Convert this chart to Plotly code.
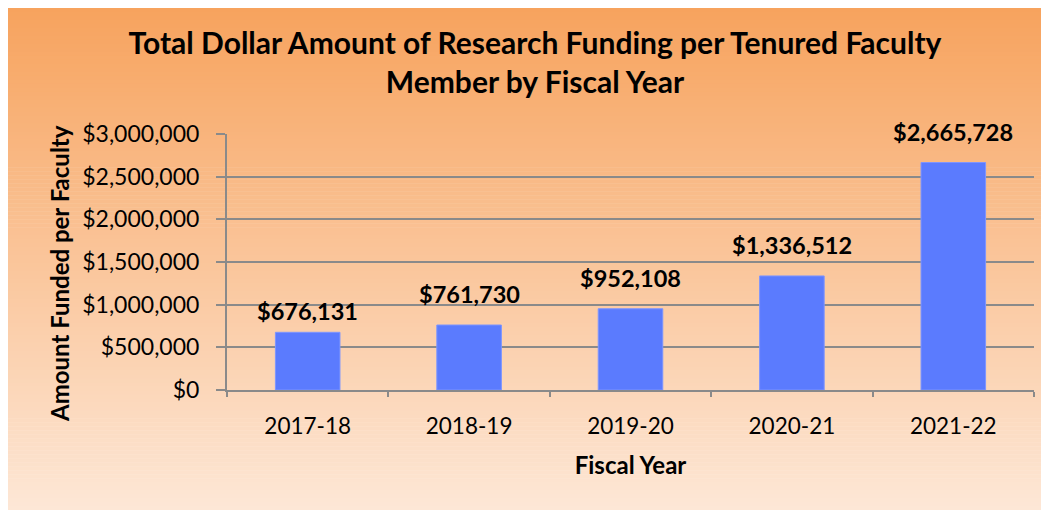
import plotly.graph_objects as go

years = ["2017-18", "2018-19", "2019-20", "2020-21", "2021-22"]
funding = [676131, 761730, 952108, 1336512, 2665728]
label_gap = [8, 18, 18, 18, 18]  # how far each value label sits above its bar (px)

W, H = 1041, 510
L, R, T, B = 219, 15, 126, 128
PW, PH = W - L - R, H - T - B
top_col = (247, 163, 94)
bot_col = (253, 231, 214)

fig = go.Figure()
fig.add_trace(go.Bar(x=years, y=funding, marker=dict(color="#5b7bfe", line=dict(color="#7d95ff", width=1)),
                     hoverinfo="x+y"))

# orange gradient background, built from thin strips (pixel rows -> paper coords)
shapes = []
n = 126
for i in range(n):
    t = i / (n - 1)
    c = tuple(round(top_col[k] + (bot_col[k] - top_col[k]) * t) for k in range(3))
    py0, py1 = i * 502 / n, (i + 1) * 502 / n + 0.5
    if i == n - 1:
        py1 = H
    shapes.append(dict(type="rect", xref="paper", yref="paper", layer="below",
                       x0=-L / PW, x1=(W - L) / PW,
                       y0=(H - B - py1) / PH, y1=(H - B - py0) / PH,
                       fillcolor="rgb(%d,%d,%d)" % c, line=dict(width=0)))
fig.update_layout(shapes=shapes)

annos = []
for yr, v, g in zip(years, funding, label_gap):
    annos.append(dict(x=yr, y=v, text="$" + format(v, ","), showarrow=False, yanchor="bottom", yshift=g - 3,
                      font=dict(family="Lato", size=23.5, color="black", weight="bold")))
annos.append(dict(text="Amount Funded per Faculty", xref="paper", yref="paper", x=(51 - L) / PW,
                  y=(H - B - 266) / PH, textangle=-90, showarrow=False, xanchor="center", yanchor="middle",
                  font=dict(family="Lato", size=24, color="black", weight="bold")))
fig.update_layout(annotations=annos)

fig.update_layout(
    width=W, height=H,
    margin=dict(l=L, r=R, t=T, b=B),
    paper_bgcolor="white",
    plot_bgcolor="rgba(0,0,0,0)",
    bargap=0.6,
    showlegend=False,
    title=dict(text="Total Dollar Amount of Research Funding per Tenured Faculty<br>Member by Fiscal Year",
               x=527 / W, xanchor="center", y=1 - 46 / H, yanchor="top",
               font=dict(family="Lato", size=30, color="black", weight="bold")),
    font=dict(family="Lato", color="black"),
)
fig.update_xaxes(tickson="boundaries", ticks="outside", ticklen=5, tickcolor="#8a8a8a", tickwidth=2,
                 showline=True, linecolor="#8a8a8a", linewidth=2, ticklabelstandoff=15,
                 tickfont=dict(size=22.5),
                 title=dict(text="Fiscal Year", standoff=19, font=dict(size=24, weight="bold")))
fig.update_yaxes(range=[0, 3000000], dtick=500000, tickformat="$,.0f", ticks="outside", ticklen=9,
                 tickcolor="#8a8a8a", tickwidth=2, showline=True, linecolor="#8a8a8a", linewidth=2,
                 gridcolor="#8a8a8a", gridwidth=2, zeroline=False, ticklabelstandoff=12,
                 tickfont=dict(size=23))

fig.write_html("out.html")
